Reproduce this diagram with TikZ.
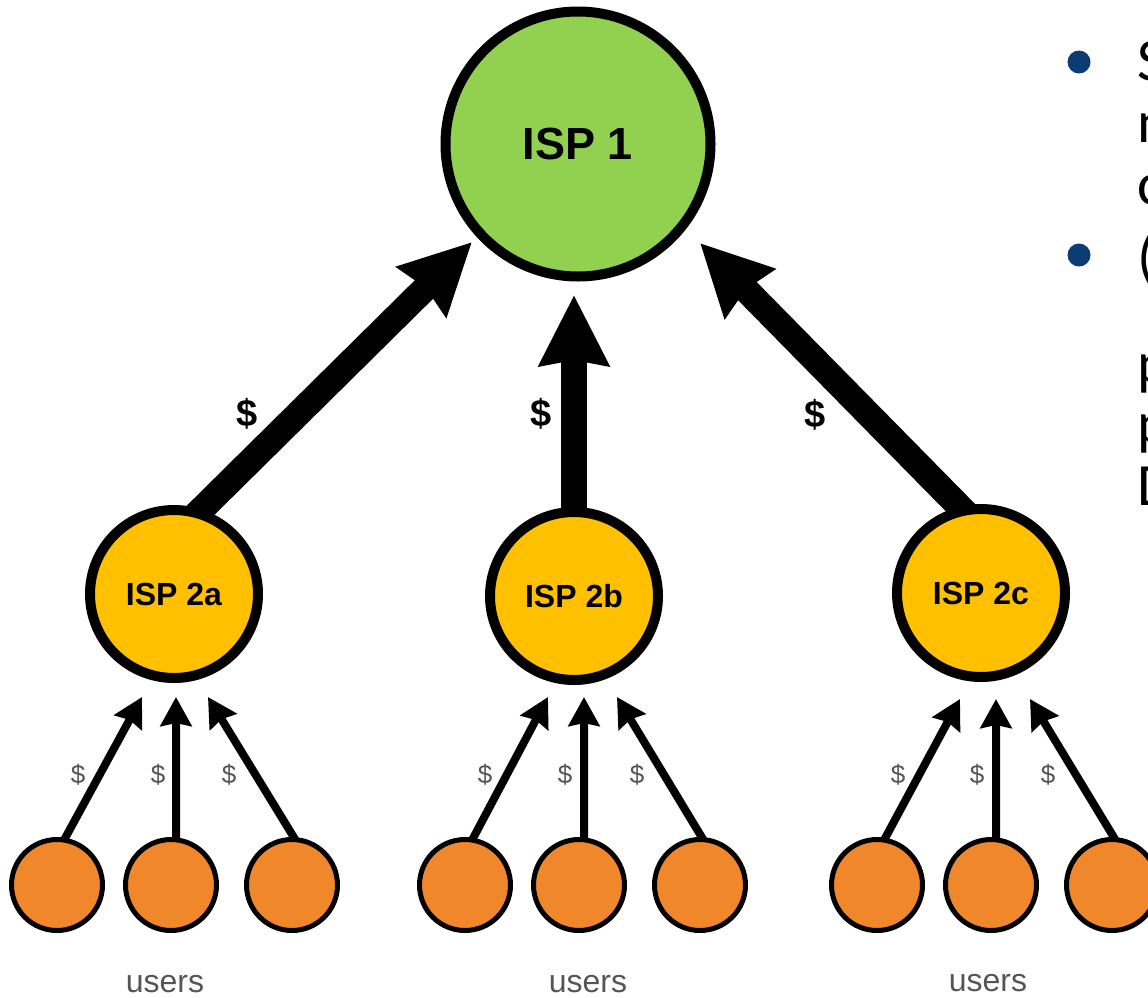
\documentclass[tikz,border=0pt]{standalone}
\usepackage{fontspec}
\setmainfont{Liberation Sans}
\newfontfamily\slidefont{Carlito}
\usetikzlibrary{arrows.meta,backgrounds}
\definecolor{ispgreen}{HTML}{92D050}
\definecolor{ispyellow}{HTML}{FFC000}
\definecolor{userorange}{HTML}{F0872A}
\definecolor{bulletblue}{HTML}{0B3C74}
\definecolor{labelgray}{HTML}{555555}
\tikzset{
    isp_top/.style={circle, draw, line width=10pt, fill=ispgreen, minimum size=265pt, inner sep=0pt,
        font=\bfseries\fontsize{45}{50}\selectfont},
    isp_mid/.style={circle, draw, line width=10pt, fill=ispyellow, minimum size=168pt, inner sep=0pt,
        font=\bfseries\fontsize{32}{36}\selectfont},
    isp_user/.style={circle, draw, line width=5pt, fill=userorange, minimum size=91pt, inner sep=0pt},
    % Payment arrows: thick between providers, thin from users
    pay_big/.style={line width=26pt, shorten <=-12pt, -{Stealth[length=70pt,width=68pt,inset=5pt]}},
    pay_small/.style={line width=8pt, shorten <=-3pt, -{Stealth[length=29pt,width=31pt,inset=3pt]}},
    pay_big_label/.style={inner sep=0pt, font=\bfseries\fontsize{38}{44}\selectfont},
    pay_small_label/.style={inner sep=0pt, text=labelgray, font=\fontsize{26}{30}\selectfont},
    users_label/.style={inner sep=0pt, anchor=base, text=labelgray, font=\fontsize{32}{38}\selectfont},
    % Cut-off slide text on the right edge
    slide_bullet/.style={circle, fill=bulletblue, minimum size=23pt, inner sep=0pt},
    slide_text/.style={inner sep=0pt, anchor=base west, font=\slidefont\fontsize{60}{72}\selectfont},
}
\begin{document}
\begin{tikzpicture}[x=1pt, y=-1pt]
    \useasboundingbox (0,0) rectangle (1148,997);

    % Tier 1: top provider
    \node[isp_top] (isp1) at (578,144) {ISP 1};

    % Tier 2: regional providers
    \node[isp_mid] (isp2a) at (174,594) {ISP 2a};
    \node[isp_mid] (isp2b) at (574,596) {ISP 2b};
    \node[isp_mid] (isp2c) at (981,593) {ISP 2c};

    % Users
    \node[isp_user] (ua1) at (57,885)   {};
    \node[isp_user] (ua2) at (171,885)  {};
    \node[isp_user] (ua3) at (292,885)  {};
    \node[isp_user] (ub1) at (465,885)  {};
    \node[isp_user] (ub2) at (579,885)  {};
    \node[isp_user] (ub3) at (700,885)  {};
    \node[isp_user] (uc1) at (877,885)  {};
    \node[isp_user] (uc2) at (991,885)  {};
    \node[isp_user] (uc3) at (1112,885) {};

    % Arrow heads stop short of the circles
    \coordinate (tip2a) at (472,242);
    \coordinate (tip2b) at (574,295);
    \coordinate (tip2c) at (700,243);
    \coordinate (tipa1) at (142,697);
    \coordinate (tipa2) at (176,697);
    \coordinate (tipa3) at (208,697);
    \coordinate (tipb1) at (548,697);
    \coordinate (tipb2) at (584,697);
    \coordinate (tipb3) at (617,697);
    \coordinate (tipc1) at (960,699);
    \coordinate (tipc2) at (996,699);
    \coordinate (tipc3) at (1030,699);

    \begin{scope}[on background layer]
        \draw[pay_big] (isp2a.72)    -- (tip2a);
        \draw[pay_big] (isp2b.north) -- (tip2b);
        \draw[pay_big] (isp2c.104)   -- (tip2c);

        \draw[pay_small] (ua1.80) -- (tipa1);
        \draw[pay_small] (ua2.84) -- (tipa2);
        \draw[pay_small] (ua3.88) -- (tipa3);
        \draw[pay_small] (ub1.80) -- (tipb1);
        \draw[pay_small] (ub2.84) -- (tipb2);
        \draw[pay_small] (ub3.88) -- (tipb3);
        \draw[pay_small] (uc1.80) -- (tipc1);
        \draw[pay_small] (uc2.84) -- (tipc2);
        \draw[pay_small] (uc3.88) -- (tipc3);
    \end{scope}

    % Labels
    \node[pay_big_label] (pay2a) at (247,414) {\$};
    \node[pay_big_label] (pay2b) at (541,414) {\$};
    \node[pay_big_label] (pay2c) at (815,415) {\$};

    \node[pay_small_label] (paya1) at (78,775)   {\$};
    \node[pay_small_label] (paya2) at (158,775)  {\$};
    \node[pay_small_label] (paya3) at (229,775)  {\$};
    \node[pay_small_label] (payb1) at (485,775)  {\$};
    \node[pay_small_label] (payb2) at (565,775)  {\$};
    \node[pay_small_label] (payb3) at (637,775)  {\$};
    \node[pay_small_label] (payc1) at (898,775)  {\$};
    \node[pay_small_label] (payc2) at (977,775)  {\$};
    \node[pay_small_label] (payc3) at (1048,775) {\$};

    \node[users_label] (usersa) at (165,992) {users};
    \node[users_label] (usersb) at (588,992) {users};
    \node[users_label] (usersc) at (988,991) {users};

    % Slide text, cut off by the frame
    \node[slide_bullet] (bullet1) at (1079,62)  {};
    \node[slide_bullet] (bullet2) at (1079,255) {};
    \node[slide_text] (line1) at (1137,80)  {S};
    \node[slide_text] (line2) at (1137,142) {n};
    \node[slide_text] (line3) at (1137,204) {c};
    \node[slide_text] (line4) at (1137,277) {(};
    \node[slide_text] (line5) at (1137,383) {p};
    \node[slide_text] (line6) at (1137,443) {p};
    \node[slide_text] (line7) at (1137,505) {D};
\end{tikzpicture}
\end{document}
